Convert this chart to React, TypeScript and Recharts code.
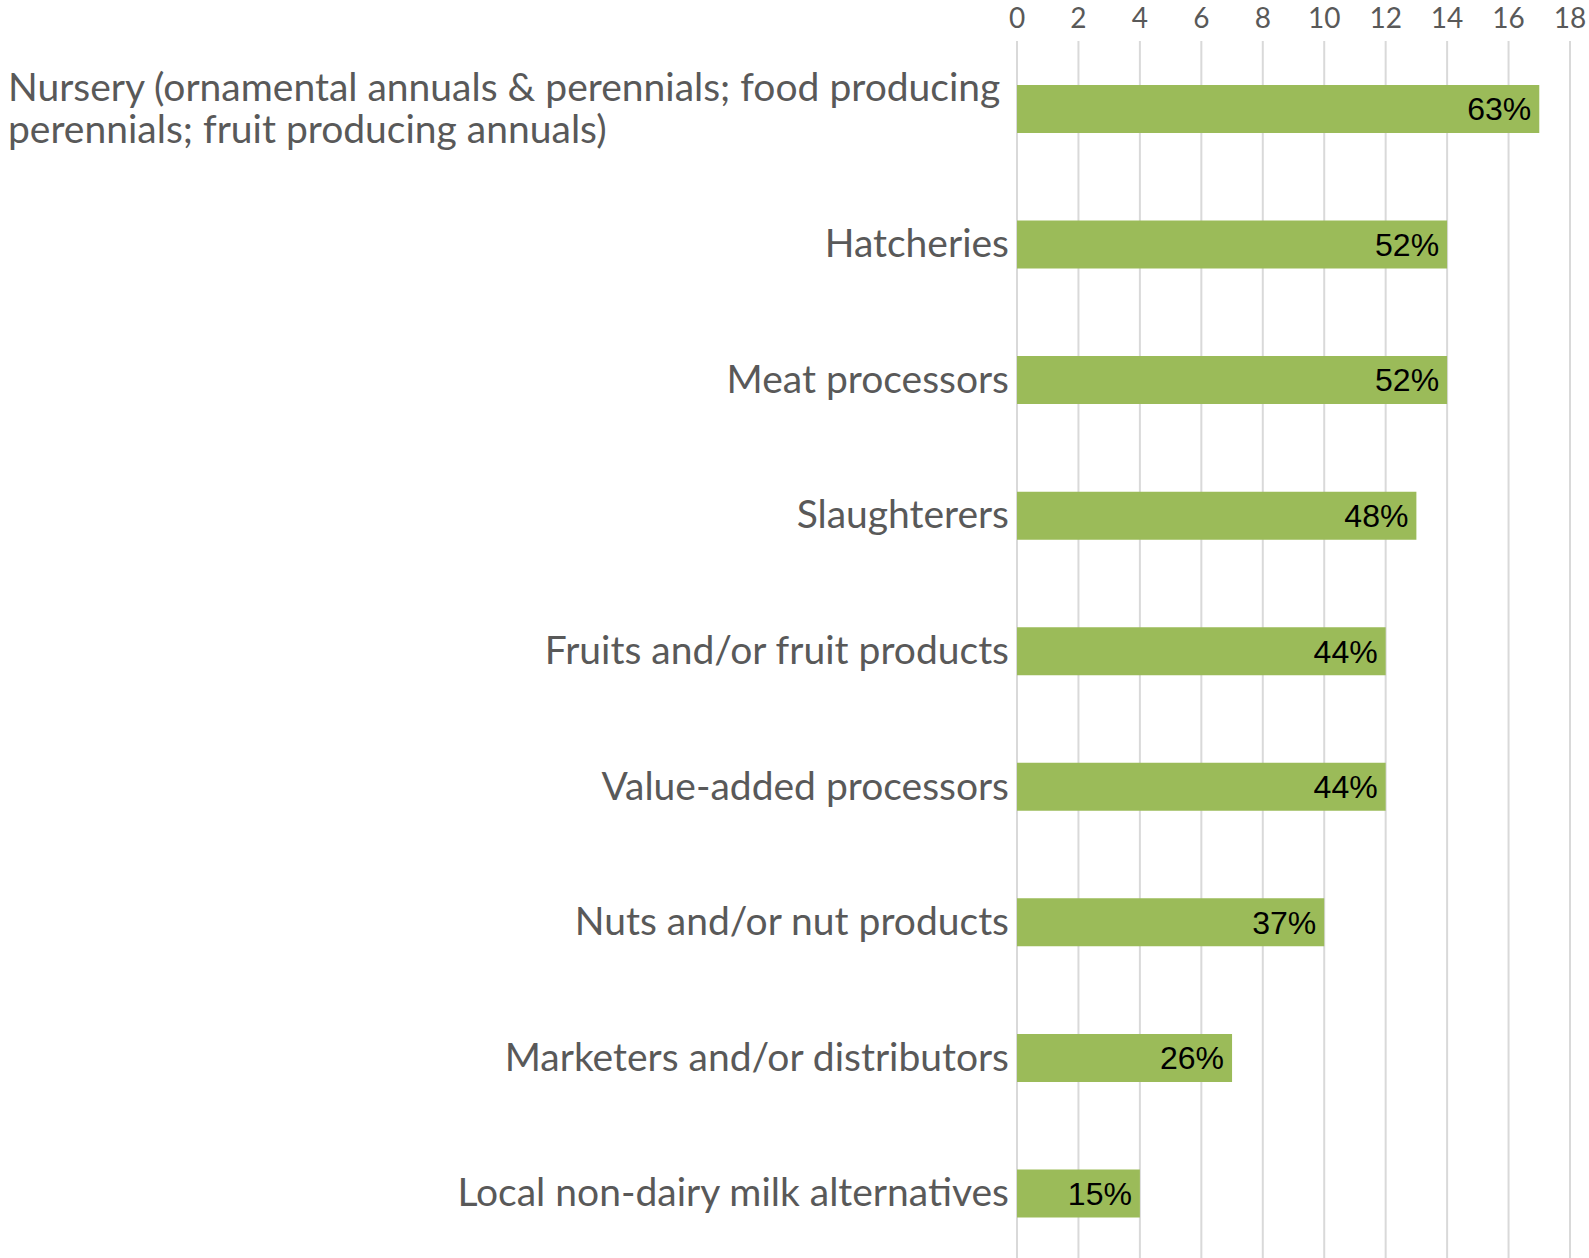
import React from 'react';
import { BarChart, Bar, XAxis, YAxis, CartesianGrid, LabelList } from 'recharts';

const categories = [
  'Nursery (ornamental annuals & perennials; food producing|perennials; fruit producing annuals)',
  'Hatcheries',
  'Meat processors',
  'Slaughterers',
  'Fruits and/or fruit products',
  'Value-added processors',
  'Nuts and/or nut products',
  'Marketers and/or distributors',
  'Local non-dairy milk alternatives'
];
const counts = [17, 14, 14, 13, 12, 12, 10, 7, 4];
const percentLabels = ['63%', '52%', '52%', '48%', '44%', '44%', '37%', '26%', '15%'];
const xTicks = [0, 2, 4, 6, 8, 10, 12, 14, 16, 18];

const data = categories.map((name, i) => ({
  name,
  count: counts[i],
  pct: percentLabels[i]
}));

const labelFont = 'Lato, "Open Sans", sans-serif';

const CategoryTick = (props: any) => {
  const { x, y, payload } = props;
  const lines: string[] = String(payload.value).split('|');
  if (lines.length > 1) {
    return (
      <text
        x={8}
        y={y}
        fill="#595959"
        fontSize={39}
        fontFamily={labelFont}
        textAnchor="start"
      >
        {lines.map((ln, i) => (
          <tspan key={i} x={8} dy={i === 0 ? -8 : 42}>
            {ln}
          </tspan>
        ))}
      </text>
    );
  }
  return (
    <text
      x={x}
      y={y}
      dy={13}
      fill="#595959"
      fontSize={39}
      fontFamily={labelFont}
      textAnchor="end"
    >
      {payload.value}
    </text>
  );
};

export default function App() {
  return (
    <div style={{ position: 'absolute', left: 0, top: 0, width: 1589, height: 1258, background: '#fff' }}>
      <BarChart
        width={1589}
        height={1258}
        data={data}
        layout="vertical"
        margin={{ top: 0, right: 19, bottom: -3, left: 0 }}
      >
        <CartesianGrid horizontal={false} stroke="#d9d9d9" strokeWidth={2} />
        <XAxis
          type="number"
          orientation="top"
          domain={[0, 18]}
          ticks={xTicks}
          height={41}
          axisLine={false}
          tickLine={false}
          tickSize={6}
          tickMargin={7}
          interval={0}
          tick={{ fill: '#595959', fontSize: 28, fontFamily: labelFont }}
        />
        <YAxis
          type="category"
          dataKey="name"
          width={1017}
          axisLine={false}
          tickLine={false}
          tickSize={0}
          tickMargin={8}
          interval={0}
          tick={<CategoryTick />}
        />
        <Bar dataKey="count" fill="#9bbb59" barSize={48} isAnimationActive={false}>
          <LabelList
            dataKey="pct"
            position="insideRight"
            offset={8}
            fill="#000"
            fontSize={32}
            fontFamily='"Liberation Sans", Arial, sans-serif'
          />
        </Bar>
      </BarChart>
    </div>
  );
}
